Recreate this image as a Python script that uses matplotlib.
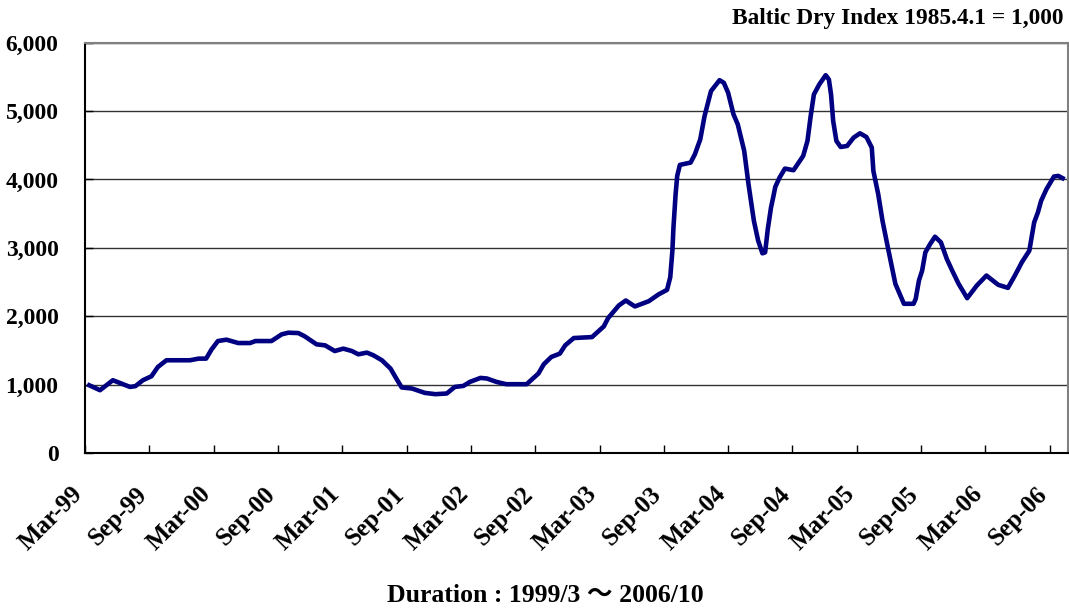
import matplotlib
matplotlib.use('Agg')
import matplotlib.pyplot as plt
import matplotlib.transforms as mtransforms
from matplotlib.ticker import FuncFormatter

# Months elapsed since March 1999 and the Baltic Dry Index
months = [0.4, 1.4, 2.6, 4.2, 4.7, 5.4, 6.2, 6.8, 7.6, 9.8, 10.6, 11.3, 11.8, 12.4,
          13.2, 14.3, 15.4, 15.9, 17.4, 18.35, 18.97, 19.9, 20.5, 21.6, 22.4, 23.3,
          24.1, 24.9, 25.5, 26.3, 26.9, 27.7, 28.5, 29.1, 29.55, 30.5, 31.7, 32.7,
          33.75, 34.5, 35.3, 35.9, 36.9, 37.5, 38.4, 39.3, 41.2, 42.3, 42.8, 43.5,
          44.3, 44.8, 45.6, 47.3, 48.4, 48.8, 49.8, 50.45, 51.3, 52.6, 53.5, 54.3,
          54.6, 54.8, 54.9, 55.1, 55.25, 55.5, 56.5, 56.9, 57.4, 57.8, 58.4, 59.2,
          59.6, 60.0, 60.5, 60.9, 61.5, 61.9, 62.4, 62.8, 63.2, 63.45, 63.7, 64.0,
          64.2, 64.4, 64.8, 65.3, 66.1, 67.0, 67.4, 67.7, 68.0, 68.5, 69.1, 69.4,
          69.6, 69.8, 70.1, 70.5, 71.1, 71.7, 72.3, 72.9, 73.4, 73.55, 74.0, 74.4,
          74.9, 75.6, 76.0, 76.4, 77.3, 77.5, 77.8, 78.1, 78.4, 78.85, 79.3, 79.85,
          80.4, 80.9, 81.5, 82.3, 83.2, 84.1, 85.2, 86.1, 86.8, 87.4, 88.1, 88.55,
          88.9, 89.2, 89.7, 90.4, 90.8, 91.2]
bdi = [990, 918, 1064, 966, 977, 1064, 1122, 1258, 1356, 1356, 1380, 1380, 1512, 1637,
       1657, 1608, 1608, 1637, 1637, 1735, 1759, 1754, 1706, 1589, 1574, 1491,
       1526, 1491, 1443, 1468, 1429, 1356, 1235, 1074, 958, 943, 879, 860,
       870, 966, 981, 1039, 1098, 1089, 1039, 1006, 1006, 1162, 1297, 1404,
       1453, 1574, 1681, 1695, 1851, 1972, 2157, 2230, 2143, 2220, 2318, 2386,
       2570, 2959, 3299, 3786, 4052, 4213, 4247, 4369, 4587, 4927, 5292, 5452,
       5413, 5267, 4952, 4806, 4417, 3931, 3397, 3105, 2920, 2934, 3275, 3590,
       3736, 3892, 4028, 4159, 4135, 4344, 4563, 4927, 5243, 5389, 5525, 5462,
       5243, 4854, 4563, 4475, 4490, 4611, 4675, 4621, 4466, 4125, 3786, 3397,
       3007, 2474, 2328, 2182, 2182, 2255, 2522, 2668, 2934, 3057, 3163, 3080,
       2838, 2668, 2474, 2264, 2449, 2595, 2459, 2415, 2609, 2789, 2959, 3372,
       3519, 3688, 3859, 4043, 4052, 4019]

tick_months = list(range(0, 91, 6))
tick_labels = ['Mar-99', 'Sep-99', 'Mar-00', 'Sep-00', 'Mar-01', 'Sep-01', 'Mar-02',
               'Sep-02', 'Mar-03', 'Sep-03', 'Mar-04', 'Sep-04', 'Mar-05', 'Sep-05',
               'Mar-06', 'Sep-06']
y_ticks = list(range(0, 6001, 1000))

plt.rcParams['font.family'] = ['Liberation Serif', 'Noto Sans CJK JP']
plt.rcParams['font.weight'] = 'bold'

fig = plt.figure(figsize=(10.69, 6.10), dpi=100)
ax = fig.add_axes([0.0795, 0.2574, 0.9195, 0.6726])

ax.plot(months, bdi, color='#000080', linewidth=3.3, solid_joinstyle='round')

ax.set_xlim(0, 91.7)
ax.set_ylim(0, 6000)
ax.set_yticks(y_ticks)
ax.yaxis.set_major_formatter(FuncFormatter(lambda v, p: f'{int(v):,}'))
ax.set_xticks(tick_months)
ax.set_xticklabels(tick_labels, rotation=45, ha='right', va='center', rotation_mode='anchor')

ax.grid(axis='y', color='#333333', linewidth=1.0)
ax.set_axisbelow(True)
ax.tick_params(axis='both', direction='in', length=6, width=1, color='black')
ax.tick_params(axis='y', labelsize=17, pad=19)
ax.tick_params(axis='x', labelsize=18, pad=27)

# shift the rotated date labels a bit to the left, like the original
shift = mtransforms.ScaledTranslation(-6 / 100, 0, fig.dpi_scale_trans)
for lbl in ax.get_xticklabels():
    lbl.set_transform(lbl.get_transform() + shift)
for lbl in ax.get_xticklabels() + ax.get_yticklabels():
    lbl.set_fontweight('bold')

ax.spines['left'].set_color('black')
ax.spines['bottom'].set_color('black')
ax.spines['left'].set_linewidth(1.5)
ax.spines['bottom'].set_linewidth(1.5)
ax.spines['top'].set_color('#808080')
ax.spines['right'].set_color('#808080')
ax.spines['top'].set_linewidth(1.5)
ax.spines['right'].set_linewidth(1.5)

fig.text(0.995, 0.969, 'Baltic Dry Index 1985.4.1 = 1,000', ha='right', va='center',
         fontsize=16.8, fontweight='bold')
fig.text(0.510, 0.023, 'Duration : 1999/3 ～ 2006/10', ha='center', va='center',
         fontsize=18.5, fontweight='bold')

fig.savefig('out.png', dpi=100)
